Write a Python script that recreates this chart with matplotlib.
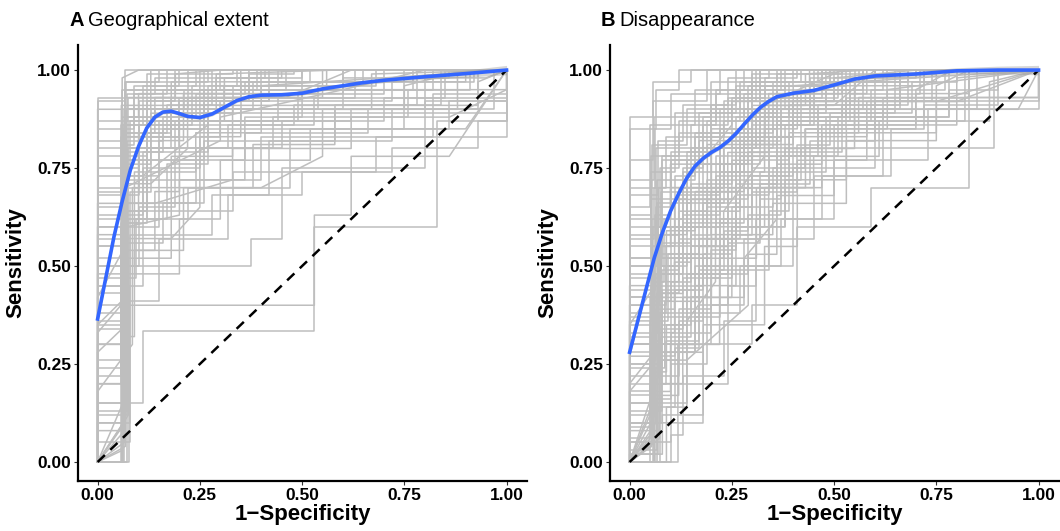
import matplotlib
matplotlib.use("Agg")
import matplotlib.pyplot as plt

plt.rcParams['font.family'] = ['Liberation Sans', 'DejaVu Sans']

# smoothed mean ROC (blue) per panel
smooth_x_a = [0, 0.02, 0.04, 0.06, 0.08, 0.10, 0.12, 0.14, 0.16, 0.18, 0.20, 0.22, 0.25, 0.28,
              0.31, 0.34, 0.37, 0.40, 0.45, 0.50, 0.55, 0.60, 0.65, 0.70, 0.80, 0.90, 1.0]
smooth_y_a = [0.365, 0.47, 0.575, 0.665, 0.745, 0.805, 0.852, 0.880, 0.893, 0.895, 0.889, 0.882,
              0.879, 0.888, 0.905, 0.922, 0.932, 0.936, 0.937, 0.941, 0.952, 0.960, 0.968, 0.974,
              0.983, 0.991, 1.0]
smooth_se_a = [0.012, 0.009, 0.007, 0.006, 0.005, 0.005, 0.005, 0.005, 0.005, 0.005, 0.005, 0.005,
               0.005, 0.005, 0.005, 0.005, 0.005, 0.005, 0.005, 0.005, 0.005, 0.005, 0.006, 0.006,
               0.007, 0.009, 0.012]

smooth_x_b = [0, 0.02, 0.04, 0.06, 0.08, 0.10, 0.12, 0.14, 0.16, 0.18, 0.20, 0.22, 0.24, 0.26,
              0.28, 0.30, 0.32, 0.34, 0.36, 0.40, 0.45, 0.50, 0.55, 0.60, 0.70, 0.80, 0.90, 1.0]
smooth_y_b = [0.28, 0.36, 0.44, 0.52, 0.585, 0.64, 0.685, 0.725, 0.755, 0.775, 0.79, 0.802, 0.818,
              0.838, 0.862, 0.885, 0.905, 0.92, 0.932, 0.941, 0.948, 0.962, 0.977, 0.985, 0.99,
              0.998, 1.0, 1.0]
smooth_se_b = [0.012, 0.009, 0.007, 0.006, 0.005, 0.005, 0.005, 0.005, 0.005, 0.005, 0.005, 0.005,
               0.005, 0.005, 0.005, 0.005, 0.005, 0.005, 0.005, 0.005, 0.005, 0.005, 0.005, 0.006,
               0.007, 0.008, 0.01, 0.012]

# individual ROC curves (1-specificity, sensitivity)
roc_a = [
    [(0, 0), (0, .35), (.067, .35), (.067, .8), (.2, .8), (.2, .93), (.5, .93), (.5, 1), (1, 1)],
    [(0, 0), (.057, 0), (.057, .6), (.15, .6), (.15, .87), (.35, .87), (.35, .97), (.7, .97), (.7, 1), (1, 1)],
    [(0, 0), (.077, 0), (.077, .45), (.11, .45), (.11, .75), (.25, .75), (.25, .9), (.6, .9), (.6, 1), (1, 1)],
    [(0, 0), (0, .15), (.11, .15), (.11, .333), (.53, .333), (.53, .6), (.83, .6), (.83, .73), (.83, .87), (1, .87), (1, 1)],
    [(0, 0), (0, .2), (.077, .2), (.077, .4), (.53, .4), (.53, .63), (.62, .63), (.62, .78), (.86, .78), (1, 1)],
    [(0, 0), (0, .5), (.375, .5), (.375, .57), (.45, .57), (.45, .75), (.8, .75), (.8, .92), (1, .92), (1, 1)],
    [(0, 0), (0, .62), (.22, .62), (.22, .7), (.47, .7), (.47, .85), (.75, .85), (.75, 1), (1, 1)],
    [(0, 0), (.067, .1), (.067, .9), (.13, .9), (.13, 1), (1, 1)],
    [(0, 0), (0, .85), (.067, .85), (.067, .95), (.3, .95), (.3, 1), (1, 1)],
    [(0, 0), (.06, 0), (.06, .75), (.1, .75), (.1, .92), (.42, .92), (.42, 1), (1, 1)],
    [(0, 0), (0, .42), (.067, .55), (.067, .7), (.3, .82), (.3, .88), (.6, .95), (.8, 1), (1, 1)],
    [(0, 0), (0, .28), (.07, .35), (.07, .83), (.18, .83), (.18, .97), (.9, .97), (.9, 1), (1, 1)],
    [(0, 0), (.075, .12), (.075, .52), (.18, .52), (.18, .78), (.33, .78), (.33, .93), (.55, .93), (.55, 1), (1, 1)],
    [(0, 0), (0, .65), (.067, .65), (.067, .88), (.26, .88), (.26, .95), (.82, .95), (.82, 1), (1, 1)],
    [(0, 0), (0, .1), (.08, .1), (.08, .58), (.28, .58), (.28, .68), (.42, .68), (.42, .82), (.72, .82), (.72, .9), (.93, .9), (.93, 1), (1, 1)],
    [(0, 0), (0, .92), (.067, .92), (.067, 1), (1, 1)],
    [(0, 0), (.065, .05), (.065, .66), (.14, .66), (.33, .72), (.33, .8), (.62, .8), (.62, .88), (.86, .88), (1, .95), (1, 1)],
    [(0, 0), (0, .45), (.06, .45), (.06, .78), (.12, .78), (.12, .9), (.38, .9), (.38, .97), (.65, .97), (.65, 1), (1, 1)],
    [(0, 0), (0, .3), (.072, .3), (.072, .6), (.2, .63), (.2, .72), (.36, .72), (.36, .88), (.5, .88), (.5, .95), (1, .95), (1, 1)],
    [(0, 0), (0, .55), (.058, .55), (.058, .83), (.3, .83), (.3, .92), (.72, .92), (.72, .97), (.92, .97), (.92, 1), (1, 1)],
    [(0, 0), (0, .75), (.068, .75), (.068, .97), (.15, .97), (.15, 1), (1, 1)],
    [(0, 0), (.07, .17), (.07, .48), (.2, .48), (.2, .62), (.3, .62), (.3, .77), (.52, .77), (.52, .85), (.9, .85), (1, 1)],
    [(0, 0), (0, .38), (.062, .38), (.062, .68), (.1, .68), (.1, .86), (.48, .86), (.48, .91), (.78, .91), (.78, 1), (1, 1)],
    [(0, 0), (0, .18), (.085, .3), (.085, .7), (.4, .7), (.55, .78), (.55, .9), (.88, .9), (.88, 1), (1, 1)],
    [(0, 0), (0, .6), (.066, .6), (.066, .8), (.45, .8), (.45, .87), (.7, .87), (.7, .93), (1, .93), (1, 1)],
    [(0, 0), (0, .08), (.06, .08), (.06, .5), (.09, .5), (.09, .74), (.24, .74), (.24, .84), (.4, .84), (.4, .96), (1, 1)],
    [(0, 0), (0, .8), (.07, .8), (.07, .9), (.22, .9), (.22, .98), (.5, .98), (.5, 1), (1, 1)],
    [(0, 0), (0, .24), (.063, .24), (.063, .56), (.16, .56), (.16, .66), (.26, .66), (.26, .82), (.58, .82), (.58, .91), (.84, .91), (.84, 1), (1, 1)],
    [(0, 0), (0, .48), (.074, .48), (.074, .71), (.13, .71), (.22, .8), (.22, .93), (.46, .93), (.62, 1), (1, 1)],
    [(0, 0), (0, .35), (.068, .42), (.068, .93), (.35, .93), (.35, 1), (1, 1)],
    [(0, 0), (.059, 0), (.059, .88), (.1, .88), (.1, .94), (.6, .94), (.6, .98), (.95, .98), (1, 1)],
    [(0, 0), (0, .69), (.069, .69), (.069, .84), (.17, .84), (.17, .91), (.28, .91), (.28, 1), (1, 1)],
    [(0, 0), (0, .13), (.071, .13), (.071, .64), (.33, .64), (.33, .74), (.68, .74), (.68, .83), (.82, .83), (.82, .94), (1, .94), (1, 1)],
    [(0, 0), (0, .58), (.064, .58), (.064, .73), (.11, .73), (.27, .86), (.27, .96), (.56, .96), (.56, 1), (1, 1)],
    [(0, 0), (0, .9), (.06, .9), (.06, .98), (.1, 1), (1, 1)],
    [(0, 0), (0, .3), (.067, .3), (.067, .72), (.4, .72), (.4, .83), (1, .83), (1, 1)],
    [(0, 0), (.062, 0), (.062, .86), (.23, .86), (.23, .89), (1, .89), (1, 1)],
    [(0, 0), (0, .55), (.07, .55), (.07, .87), (.62, .87), (.62, .9), (.97, .9), (.97, 1), (1, 1)],
    [(0, 0), (0, .66), (.058, .66), (.058, .91), (.93, .91), (.93, .97), (1, 1)],
    [(0, 0), (.073, 0), (.073, .79), (.16, .79), (.16, .85), (.86, .85), (.86, .92), (1, .92), (1, 1)],
    [(0, 0), (0, .26), (.066, .26), (.066, .64), (.12, .64), (.12, .92), (.19, .92), (.19, 1), (1, 1)],
    [(0, 0), (0, .43), (.06, .43), (.06, .81), (.09, .81), (.09, .96), (.24, .96), (.24, 1), (1, 1)],
    [(0, 0), (0, .7), (.075, .7), (.075, .93), (.4, .93), (.4, 1), (1, 1)],
    [(0, 0), (.068, .04), (.068, .54), (.14, .54), (.14, .69), (.2, .69), (.2, .87), (.31, .87), (.31, .98), (.45, .98), (.45, 1), (1, 1)],
    [(0, 0), (0, .5), (.064, .5), (.064, .77), (.36, .77), (.36, .84), (.66, .84), (.66, .9), (.8, .9), (.8, 1), (1, 1)],
    [(0, 0), (0, .2), (.058, .2), (.058, .47), (.095, .47), (.095, .62), (.17, .62), (.17, .76), (.27, .76), (.27, .9), (.54, .9), (.54, .96), (.68, .96), (.68, 1), (1, 1)],
    [(0, 0), (0, .82), (.061, .82), (.061, .9), (.12, .9), (.12, .99), (.33, .99), (.33, 1), (1, 1)],
    [(0, 0), (0, .36), (.07, .36), (.07, .66), (.24, .66), (.24, .8), (.43, .8), (.43, .88), (.76, .88), (.76, .95), (.91, .95), (.91, 1), (1, 1)],
    [(0, 0), (.063, .1), (.063, .73), (.15, .73), (.15, .82), (.21, .82), (.21, .94), (.37, .94), (.37, 1), (1, 1)],
    [(0, 0), (0, .6), (.072, .6), (.072, .76), (.13, .76), (.13, .89), (.29, .89), (.29, .99), (.58, 1), (1, 1)],
    [(0, 0), (0, .15), (.076, .15), (.076, .41), (.15, .41), (.15, .57), (.32, .57), (.32, .68), (.5, .68), (.5, .74), (.72, .74), (.72, .8), (.93, .8), (.93, .87), (1, .87), (1, 1)],
    [(0, 0), (0, .47), (.059, .47), (.059, .63), (.11, .63), (.11, .79), (.19, .79), (.19, .87), (.44, .87), (.44, .93), (.63, .93), (.63, 1), (1, 1)],
    [(0, 0), (0, .73), (.065, .73), (.065, .85), (.09, .85), (.09, .94), (.17, .94), (.17, 1), (1, 1)],
    [(0, 0), (0, .33), (.057, .4), (.057, .57), (.18, .57), (.25, .65), (.25, .83), (.35, .83), (.35, .9), (.67, .9), (.67, .99), (1, 1)],
    [(0, 0), (0, .93), (.07, .93), (.07, .97), (.27, .97), (.27, 1), (1, 1)],
    [(0, 0), (.061, .03), (.061, .61), (.1, .61), (.1, .84), (.14, .84), (.14, .9), (.25, .9), (.25, 1), (1, 1)],
    [(0, 0), (0, .52), (.074, .52), (.074, .8), (.32, .8), (.32, .86), (.53, .86), (.53, .93), (.85, .93), (.85, 1), (1, 1)],
    [(0, 0), (0, .1), (.067, .1), (.067, .32), (.09, .32), (.09, .54), (.21, .54), (.21, .7), (.38, .7), (.38, .81), (.58, .81), (.58, .9), (.75, .9), (.75, .96), (.9, 1), (1, 1)],
    [(0, 0), (0, .78), (.06, .78), (.06, .95), (.46, .95), (.46, 1), (1, 1)],
    [(0, 0), (0, .63), (.069, .63), (.069, .9), (.16, .9), (.16, .95), (.39, .95), (.39, 1), (1, 1)],
    [(0, 0), (.064, 0), (.064, .7), (.1, .7), (.1, .86), (.13, .86), (.13, .9), (.21, .9), (.21, .95), (.29, .95), (.29, .98), (.41, .98), (.41, 1), (1, 1)],
    [(0, 0), (0, .4), (.071, .4), (.071, .82), (.16, .82), (.16, .88), (.24, .88), (.24, .94), (.36, .94), (.36, .97), (.52, .97), (.52, 1), (1, 1)],
    [(0, 0), (0, .22), (.056, .22), (.056, .61), (.12, .61), (.12, .8), (.18, .8), (.18, .89), (.33, .89), (.33, .96), (.44, .96), (.44, 1), (1, 1)],
    [(0, 0), (0, .05), (.078, .05), (.078, .69), (.13, .69), (.13, .85), (.26, .85), (.26, .92), (.37, .92), (.37, .99), (.48, .99), (.48, 1), (1, 1)],
    [(0, 0), (.066, .08), (.066, .88), (.14, .88), (.14, .93), (.19, .93), (.19, .99), (.3, 1), (1, 1)],
    [(0, 0), (0, .57), (.062, .57), (.062, .74), (.08, .74), (.08, .87), (.23, .87), (.23, .96), (.34, .96), (.34, 1), (1, 1)],
    [(0, 0), (0, .12), (.073, .12), (.073, .5), (.1, .5), (.1, .65), (.19, .65), (.19, .79), (.27, .79), (.27, .87), (.49, .87), (.49, .94), (.7, .94), (.7, .98), (.86, .98), (.86, 1), (1, 1)],
    [(0, 0), (0, .68), (.057, .68), (.057, .86), (.11, .86), (.11, .96), (.2, .96), (.2, 1), (1, 1)],
    [(0, 0), (0, .34), (.069, .34), (.069, .77), (.26, .77), (.26, .91), (.31, .91), (.31, .96), (.6, .96), (.6, 1), (1, 1)],
    [(0, 0), (0, .45), (.075, .45), (.075, .62), (.12, .62), (.12, .83), (.2, .83), (.2, .92), (.42, .92), (.42, .95), (.77, .95), (.77, 1), (1, 1)],
    [(0, 0), (.06, 0), (.06, .29), (.065, .29), (.065, .84), (.18, .84), (.18, .93), (.26, .93), (.26, 1), (1, 1)],
    [(0, 0), (0, .87), (.072, .87), (.072, .94), (.14, .94), (.14, .98), (.22, .98), (.22, 1), (1, 1)],
]

roc_b = [
    [(0, 0), (.118, 0), (.118, .1), (.18, .1), (.18, .3), (.3, .3), (.3, .4), (.41, .4), (.41, .6), (.59, .6), (.59, .7), (.83, .7), (.83, 1), (1, 1)],
    [(0, 0), (.05, 0), (.05, .2), (.24, .2), (.24, .45), (.31, .45), (.31, .62), (.5, .62), (.5, .77), (.73, .77), (.73, .9), (1, .9), (1, 1)],
    [(0, 0), (0, .1), (.08, .1), (.08, .35), (.15, .35), (.15, .55), (.26, .55), (.26, .72), (.42, .72), (.42, .8), (.89, .8), (.89, 1), (1, 1)],
    [(0, 0), (0, .3), (.06, .3), (.06, .5), (.12, .5), (.12, .68), (.22, .68), (.22, .85), (.36, .85), (.36, .95), (.55, .95), (.55, 1), (1, 1)],
    [(0, 0), (.055, .05), (.055, .62), (.1, .62), (.1, .76), (.28, .76), (.28, .9), (.48, .9), (.48, 1), (1, 1)],
    [(0, 0), (0, .45), (.07, .45), (.07, .7), (.17, .7), (.17, .82), (.33, .82), (.33, .92), (.8, .92), (1, 1)],
    [(0, 0), (0, .2), (.06, .28), (.06, .42), (.2, .42), (.2, .58), (.35, .58), (.35, .66), (.53, .66), (.53, .85), (.7, .85), (.7, .95), (.79, 1), (1, 1)],
    [(0, 0), (0, .55), (.065, .55), (.065, .8), (.25, .8), (.25, .93), (.45, .93), (.45, 1), (1, 1)],
    [(0, 0), (.075, 0), (.075, .15), (.14, .15), (.14, .38), (.27, .38), (.27, .5), (.4, .5), (.4, .75), (.6, .75), (.6, .88), (.78, .88), (.78, 1), (1, 1)],
    [(0, 0), (0, .38), (.058, .38), (.058, .6), (.13, .6), (.13, .74), (.3, .74), (.3, .97), (.6, .97), (.6, 1), (1, 1)],
    [(0, 0), (0, .05), (.1, .05), (.1, .25), (.19, .25), (.19, .48), (.29, .48), (.29, .63), (.37, .63), (.37, .87), (.62, .87), (.62, .93), (.83, .93), (.83, 1), (1, 1)],
    [(0, 0), (0, .65), (.05, .65), (.05, .86), (.16, .86), (.16, .95), (.38, .95), (.38, 1), (1, 1)],
    [(0, 0), (.062, .12), (.062, .33), (.11, .33), (.11, .52), (.23, .52), (.23, .64), (.33, .78), (.33, .88), (.52, .88), (.52, .96), (.72, .96), (.72, 1), (1, 1)],
    [(0, 0), (0, .25), (.07, .25), (.07, .4), (.09, .4), (.09, .55), (.21, .55), (.21, .78), (.46, .78), (.46, .91), (.66, .91), (.66, 1), (1, 1)],
    [(0, 0), (0, .15), (.053, .15), (.053, .45), (.18, .45), (.18, .66), (.27, .66), (.27, .83), (.4, .83), (.4, .92), (1, .92), (1, 1)],
    [(0, 0), (0, .5), (.08, .5), (.08, .78), (.2, .78), (.2, .9), (.32, .9), (.32, 1), (1, 1)],
    [(0, 0), (.067, 0), (.067, .28), (.16, .28), (.16, .5), (.34, .5), (.34, .7), (.47, .7), (.47, .84), (.75, .84), (.75, .96), (.83, 1), (1, 1)],
    [(0, 0), (0, .35), (.055, .44), (.055, .58), (.14, .58), (.14, .72), (.25, .86), (.25, .92), (.5, .92), (.5, .98), (.7, 1), (1, 1)],
    [(0, 0), (0, .08), (.072, .08), (.072, .2), (.13, .2), (.13, .42), (.25, .42), (.25, .6), (.38, .6), (.38, .8), (.55, .8), (.55, .9), (.95, .9), (1, 1)],
    [(0, 0), (0, .72), (.06, .72), (.06, .88), (.2, .88), (.2, .97), (.42, .97), (.42, 1), (1, 1)],
    [(0, 0), (.06, 0), (.06, .1), (.118, .1), (.118, .3), (.22, .3), (.22, .52), (.31, .52), (.31, .7), (.43, .7), (.43, .85), (.63, .85), (.63, .95), (1, 1)],
    [(0, 0), (0, .42), (.068, .42), (.068, .66), (.15, .66), (.15, .8), (.35, .8), (.35, .9), (.57, .9), (.57, 1), (1, 1)],
    [(0, 0), (0, .18), (.05, .18), (.05, .36), (.095, .36), (.095, .53), (.17, .53), (.17, .62), (.32, .62), (.32, .74), (.48, .74), (.48, .88), (.72, .88), (.72, 1), (1, 1)],
    [(0, 0), (0, .6), (.075, .6), (.075, .75), (.12, .75), (.12, .84), (.28, .84), (.28, .94), (.52, .94), (.52, 1), (1, 1)],
    [(0, 0), (.058, .08), (.058, .52), (.2, .52), (.2, .7), (.36, .7), (.36, .83), (.58, .83), (.58, .92), (.82, .92), (.82, 1), (1, 1)],
    [(0, 0), (0, .3), (.065, .3), (.065, .48), (.24, .48), (.24, .7), (.3, .7), (.3, .86), (.44, .86), (.44, .95), (.62, .95), (.62, 1), (1, 1)],
    [(0, 0), (0, .02), (.08, .02), (.08, .12), (.18, .12), (.18, .35), (.33, .35), (.33, .55), (.41, .55), (.41, .77), (.58, .77), (.58, .87), (.88, .87), (.88, .97), (1, 1)],
    [(0, 0), (0, .52), (.052, .52), (.052, .74), (.11, .74), (.11, .89), (.26, .89), (.26, 1), (1, 1)],
    [(0, 0), (.07, .22), (.07, .46), (.12, .46), (.12, .64), (.19, .64), (.19, .81), (.4, .81), (.4, .96), (1, 1)],
    [(0, 0), (0, .12), (.063, .12), (.063, .3), (.2, .3), (.2, .4), (.28, .4), (.28, .57), (.45, .57), (.45, .73), (.62, .73), (.62, .9), (.85, .9), (.85, 1), (1, 1)],
    [(0, 0), (0, .4), (.056, .4), (.056, .55), (.1, .55), (.1, .7), (.23, .7), (.23, .87), (.37, .87), (.37, .93), (.52, 1), (1, 1)],
    [(0, 0), (0, .22), (.074, .22), (.074, .56), (.15, .56), (.15, .67), (.29, .67), (.29, .79), (.52, .79), (.52, .91), (.68, .91), (.68, 1), (1, 1)],
    [(0, 0), (0, .85), (.065, .85), (.065, .95), (.12, .95), (.12, 1), (1, 1)],
    [(0, 0), (.05, .06), (.05, .18), (.1, .18), (.1, .3), (.16, .3), (.16, .45), (.26, .45), (.26, .6), (.38, .6), (.38, .72), (.53, .72), (.53, .82), (.75, .82), (.75, .92), (1, 1)],
    [(0, 0), (0, .33), (.069, .33), (.069, .6), (.18, .6), (.18, .76), (.32, .76), (.32, .96), (.47, .96), (.47, 1), (1, 1)],
    [(0, 0), (0, .47), (.077, .47), (.077, .69), (.22, .69), (.22, .83), (.4, .83), (.4, .89), (.65, .89), (.65, 1), (1, 1)],
    [(0, 0), (.09, 0), (.09, .14), (.14, .14), (.14, .26), (.29, .4), (.29, .53), (.36, .53), (.36, .68), (.5, .68), (.5, .86), (.8, .86), (.8, .98), (1, 1)],
    [(0, 0), (0, .62), (.054, .62), (.054, .81), (.14, .81), (.14, .9), (.3, .9), (.3, .99), (.75, .99), (.75, 1), (1, 1)],
    [(0, 0), (.06, .16), (.06, .37), (.17, .37), (.17, .57), (.27, .57), (.27, .73), (.39, .73), (.39, .84), (.56, .84), (.56, .93), (1, .93), (1, 1)],
    [(0, 0), (0, .27), (.066, .27), (.066, .43), (.13, .43), (.13, .61), (.24, .61), (.24, .79), (.34, .79), (.34, .91), (.5, .91), (.6, 1), (1, 1)],
    [(0, 0), (0, .1), (.058, .1), (.058, .27), (.11, .27), (.11, .44), (.16, .44), (.16, .6), (.21, .6), (.21, .73), (.27, .73), (.27, .84), (.35, .84), (.35, .93), (.47, .93), (.47, 1), (1, 1)],
    [(0, 0), (0, .2), (.071, .2), (.071, .38), (.09, .38), (.09, .5), (.14, .5), (.14, .66), (.23, .66), (.23, .76), (.29, .76), (.29, .88), (.39, .88), (.39, .97), (.56, .97), (.56, 1), (1, 1)],
    [(0, 0), (0, .06), (.054, .06), (.054, .22), (.12, .22), (.12, .39), (.2, .39), (.2, .54), (.26, .54), (.26, .68), (.34, .68), (.34, .8), (.46, .8), (.46, .9), (.66, .9), (.66, 1), (1, 1)],
    [(0, 0), (0, .44), (.063, .44), (.063, .63), (.1, .63), (.1, .79), (.19, .79), (.19, .87), (.27, .87), (.27, .95), (.37, .95), (.37, 1), (1, 1)],
    [(0, 0), (.057, 0), (.057, .34), (.13, .34), (.13, .47), (.22, .47), (.22, .62), (.3, .62), (.3, .77), (.39, .77), (.39, .91), (.54, .91), (.54, 1), (1, 1)],
    [(0, 0), (0, .57), (.059, .57), (.059, .7), (.09, .7), (.09, .83), (.23, .83), (.23, .92), (.31, .92), (.31, 1), (1, 1)],
    [(0, 0), (0, .15), (.076, .15), (.076, .32), (.15, .32), (.15, .42), (.19, .42), (.19, .57), (.32, .57), (.32, .71), (.44, .71), (.44, .82), (.6, .82), (.6, .92), (.74, .92), (.74, 1), (1, 1)],
    [(0, 0), (0, .36), (.052, .36), (.052, .5), (.11, .5), (.11, .67), (.2, .67), (.2, .85), (.3, .85), (.3, .91), (.43, .91), (.43, .99), (.58, 1), (1, 1)],
    [(0, 0), (.064, .1), (.064, .24), (.086, .24), (.086, .41), (.17, .41), (.17, .55), (.24, .55), (.24, .74), (.33, .74), (.33, .85), (.41, .85), (.41, .94), (.58, .94), (.58, 1), (1, 1)],
    [(0, 0), (0, .68), (.07, .68), (.07, .82), (.13, .82), (.13, .91), (.24, .91), (.24, .98), (.34, .98), (.34, 1), (1, 1)],
    [(0, 0), (0, .03), (.066, .03), (.066, .16), (.1, .16), (.1, .33), (.2, .33), (.2, .47), (.25, .47), (.25, .58), (.3, .58), (.3, .69), (.41, .69), (.41, .81), (.49, .81), (.49, .89), (.69, .89), (.69, .97), (.8, .97), (.8, 1), (1, 1)],
    [(0, 0), (0, .48), (.053, .48), (.053, .67), (.14, .67), (.14, .77), (.18, .77), (.18, .88), (.33, .88), (.33, .96), (.49, .96), (.49, 1), (1, 1)],
    [(0, 0), (0, .24), (.078, .24), (.078, .43), (.12, .43), (.12, .57), (.26, .57), (.26, .71), (.36, .71), (.36, .87), (.54, .87), (.54, .94), (.71, .94), (.71, 1), (1, 1)],
    [(0, 0), (.05, .12), (.05, .42), (.09, .42), (.09, .59), (.16, .59), (.16, .69), (.28, .69), (.28, .81), (.36, .81), (.36, .9), (.6, .9), (.6, 1), (1, 1)],
    [(0, 0), (0, .77), (.056, .77), (.056, .92), (.19, .92), (.19, 1), (1, 1)],
    [(0, 0), (0, .13), (.069, .13), (.069, .28), (.16, .28), (.16, .37), (.22, .37), (.22, .49), (.34, .49), (.34, .64), (.39, .64), (.39, .78), (.51, .78), (.51, .88), (.78, .88), (.78, .95), (.9, .95), (.9, 1), (1, 1)],
    [(0, 0), (0, .32), (.061, .32), (.061, .53), (.15, .53), (.15, .71), (.25, .71), (.25, .82), (.37, .82), (.37, .9), (.45, .9), (.45, .97), (.68, .97), (.68, 1), (1, 1)],
    [(0, 0), (.073, .06), (.073, .26), (.14, .26), (.14, .36), (.21, .46), (.21, .6), (.33, .6), (.33, .7), (.45, .7), (.45, .78), (.61, .78), (.61, .87), (.82, .87), (.82, .93), (1, .93), (1, 1)],
    [(0, 0), (0, .58), (.067, .58), (.067, .72), (.16, .72), (.16, .84), (.29, .84), (.29, .96), (.4, .96), (.4, 1), (1, 1)],
    [(0, 0), (0, .09), (.055, .09), (.055, .31), (.08, .31), (.08, .44), (.18, .44), (.18, .53), (.25, .53), (.25, .65), (.35, .65), (.35, .75), (.43, .75), (.43, .85), (.53, .85), (.53, .93), (.63, .93), (.63, 1), (1, 1)],
    [(0, 0), (0, .4), (.072, .4), (.072, .58), (.12, .58), (.12, .7), (.2, .7), (.2, .8), (.31, .8), (.31, .89), (.48, .89), (.48, .95), (.57, .95), (.57, 1), (1, 1)],
    [(0, 0), (0, .18), (.064, .26), (.064, .39), (.11, .39), (.11, .51), (.15, .51), (.15, .64), (.27, .64), (.27, .78), (.38, .78), (.38, .86), (.55, .86), (.55, .97), (.75, .97), (.75, 1), (1, 1)],
    [(0, 0), (0, .88), (.058, .88), (.058, .97), (.15, .97), (.15, 1), (1, 1)],
    [(0, 0), (.1, 0), (.1, .07), (.13, .07), (.13, .22), (.23, .22), (.23, .36), (.31, .36), (.31, .5), (.37, .5), (.37, .62), (.47, .62), (.47, .73), (.64, .73), (.64, .85), (.72, .85), (.72, .91), (.9, .91), (.9, 1), (1, 1)],
    [(0, 0), (0, .52), (.078, .52), (.078, .77), (.17, .77), (.17, .89), (.36, .89), (.36, .99), (.52, .99), (.52, 1), (1, 1)],
    [(0, 0), (0, .28), (.056, .28), (.056, .41), (.1, .41), (.1, .6), (.19, .6), (.19, .72), (.26, .72), (.26, .88), (.42, .88), (.42, .96), (.53, .96), (.53, 1), (1, 1)],
    [(0, 0), (.06, 0), (.06, .2), (.09, .2), (.09, .31), (.17, .31), (.17, .49), (.23, .49), (.23, .59), (.29, .59), (.29, .73), (.4, .73), (.4, .87), (.59, .87), (.59, .95), (.77, .95), (.77, 1), (1, 1)],
    [(0, 0), (0, .63), (.052, .63), (.052, .78), (.12, .78), (.12, .87), (.21, .87), (.21, .95), (.28, .95), (.28, 1), (1, 1)],
    [(0, 0), (0, .35), (.07, .35), (.07, .52), (.13, .52), (.13, .63), (.22, .63), (.22, .8), (.32, .8), (.32, .92), (.5, .92), (.5, 1), (1, 1)],
    [(0, 0), (.054, .04), (.054, .17), (.12, .17), (.12, .28), (.18, .28), (.18, .42), (.28, .42), (.28, .52), (.36, .62), (.36, .76), (.47, .76), (.47, .86), (.7, .86), (.7, .94), (.83, .94), (.83, 1), (1, 1)],
    [(0, 0), (0, .25), (.06, .25), (.06, .46), (.085, .46), (.085, .62), (.13, .62), (.13, .75), (.18, .75), (.18, .86), (.24, .86), (.24, .93), (.33, .93), (.33, .98), (.41, .98), (.41, 1), (1, 1)],
    [(0, 0), (0, .05), (.067, .05), (.067, .3), (.1, .3), (.1, .46), (.15, .46), (.15, .58), (.2, .58), (.2, .69), (.26, .69), (.26, .8), (.31, .8), (.31, .9), (.38, .9), (.38, .96), (.49, .96), (.49, 1), (1, 1)],
    [(0, 0), (0, .37), (.074, .37), (.074, .55), (.11, .55), (.11, .73), (.16, .73), (.16, .83), (.22, .83), (.22, .9), (.27, .9), (.27, .97), (.36, .97), (.36, 1), (1, 1)],
    [(0, 0), (.058, .05), (.058, .23), (.09, .23), (.09, .35), (.14, .35), (.14, .53), (.19, .53), (.19, .67), (.25, .67), (.25, .77), (.3, .77), (.3, .87), (.34, .87), (.34, .94), (.44, .94), (.44, 1), (1, 1)],
    [(0, 0), (0, .17), (.052, .17), (.052, .33), (.08, .33), (.08, .49), (.12, .49), (.12, .62), (.17, .62), (.17, .7), (.23, .7), (.23, .82), (.29, .82), (.29, .92), (.35, .92), (.35, .97), (.46, .97), (.46, 1), (1, 1)],
    [(0, 0), (0, .5), (.065, .5), (.065, .65), (.1, .65), (.1, .77), (.15, .77), (.15, .86), (.21, .86), (.21, .94), (.3, .94), (.3, 1), (1, 1)],
    [(0, 0), (0, .02), (.07, .02), (.07, .14), (.11, .14), (.11, .29), (.17, .29), (.17, .4), (.24, .4), (.24, .56), (.32, .56), (.32, .67), (.37, .67), (.37, .78), (.42, .78), (.42, .88), (.53, .88), (.53, .97), (.66, .97), (.66, 1), (1, 1)],
    [(0, 0), (0, .3), (.055, .3), (.055, .48), (.13, .48), (.13, .6), (.22, .6), (.22, .74), (.28, .74), (.28, .83), (.33, .83), (.33, .9), (.44, .9), (.44, .98), (.6, .98), (.6, 1), (1, 1)],
    [(0, 0), (.062, 0), (.062, .13), (.08, .13), (.08, .26), (.12, .26), (.12, .36), (.18, .36), (.18, .5), (.22, .5), (.22, .61), (.28, .61), (.28, .7), (.34, .7), (.34, .83), (.4, .83), (.4, .92), (.55, .92), (.55, .98), (.7, .98), (.7, 1), (1, 1)],
    [(0, 0), (0, .42), (.077, .42), (.077, .6), (.14, .6), (.14, .79), (.2, .79), (.2, .91), (.26, .91), (.26, .96), (.32, .96), (.32, 1), (1, 1)],
    [(0, 0), (0, .7), (.062, .7), (.062, .85), (.1, .85), (.1, .94), (.22, .94), (.22, 1), (1, 1)],
    [(0, 0), (0, .1), (.075, .1), (.075, .38), (.14, .38), (.14, .48), (.19, .48), (.19, .65), (.3, .65), (.3, .75), (.36, .75), (.36, .86), (.45, .86), (.45, .93), (.51, .93), (.51, 1), (1, 1)],
]

panels = [
    ("A", "Geographical extent", roc_a, smooth_x_a, smooth_y_a, smooth_se_a),
    ("B", "Disappearance", roc_b, smooth_x_b, smooth_y_b, smooth_se_b),
]

fig = plt.figure(figsize=(10.6, 5.31), dpi=100)
lefts = [78 / 1060, 610 / 1060]
bottom, height, width = 1 - 481 / 531, (481 - 45) / 531, 449 / 1060

for (tag, title, curves, sx, sy, se), left in zip(panels, lefts):
    ax = fig.add_axes([left, bottom, width, height])
    for c in curves:
        xs = [p[0] for p in c]
        ys = [p[1] for p in c]
        ax.plot(xs, ys, color='#bebebe', lw=1.1, zorder=1)
    ax.plot([0, 1], [0, 1], color='black', ls=(0, (4, 3)), lw=1.8, zorder=3)
    lo = [y - s for y, s in zip(sy, se)]
    hi = [y + s for y, s in zip(sy, se)]
    ax.fill_between(sx, lo, hi, color='#999999', alpha=0.4, lw=0, zorder=2)
    ax.plot(sx, sy, color='#3366ff', lw=2.6, zorder=4)

    ax.set_xlim(-0.048, 1.05)
    ax.set_ylim(-0.0485, 1.064)
    ax.set_xticks([0, 0.25, 0.5, 0.75, 1.0])
    ax.set_yticks([0, 0.25, 0.5, 0.75, 1.0])
    ax.set_xticklabels(['0.00', '0.25', '0.50', '0.75', '1.00'])
    ax.set_yticklabels(['0.00', '0.25', '0.50', '0.75', '1.00'])
    ax.tick_params(length=3, width=0.8, color='#333333', labelsize=12.5, pad=2)
    for lab in ax.get_xticklabels() + ax.get_yticklabels():
        lab.set_fontweight('bold')
    for s in ['top', 'right']:
        ax.spines[s].set_visible(False)
    for s in ['left', 'bottom']:
        ax.spines[s].set_linewidth(1.6)
    ax.set_xlabel('1\u2212Specificity', fontsize=16, fontweight='bold', labelpad=1)
    ax.set_ylabel('Sensitivity', fontsize=16, fontweight='bold', labelpad=8)

    x0 = left - 9 / 1060
    t1 = fig.text(x0, 1 - 20 / 531, tag, fontsize=14.5, fontweight='bold', va='center')
    fig.canvas.draw()
    bb = t1.get_window_extent()
    fig.text((bb.x1 + 4) / fig.bbox.width, 1 - 20 / 531, title, fontsize=14.5, va='center')

fig.savefig('out.png', dpi=100)
